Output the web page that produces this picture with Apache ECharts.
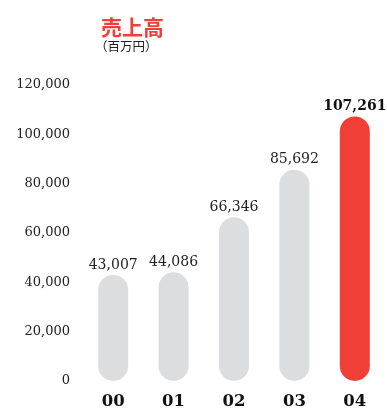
<!DOCTYPE html>
<html>
<head>
<meta charset="utf-8">
<script src="https://cdn.jsdelivr.net/npm/echarts@6/dist/echarts.min.js"></script>
<style>
  html, body { margin: 0; padding: 0; background: #fff; }
  #chart { width: 387px; height: 410px; }
</style>
</head>
<body>
<div id="chart"></div>
<script>
// Net sales by fiscal year (millions of yen)
var titleText = '売上高';
var unitText = '（百万円）';
var years = ['00', '01', '02', '03', '04'];
var sales = [43007, 44086, 66346, 85692, 107261];
var yTicks = [0, 20000, 40000, 60000, 80000, 100000, 120000];
var latestIndex = 4;

var GREY = '#dcdddf';
var RED = '#ef3f36';
var NUM_FONT = '"DejaVu Serif", serif';
var JP_FONT = '"Noto Sans CJK JP", sans-serif';

function fmt(v) {
  return v.toLocaleString('en-US');
}

var barData = sales.map(function (v, i) {
  var latest = i === latestIndex;
  return {
    value: v,
    itemStyle: { color: latest ? RED : GREY },
    label: latest ? { fontWeight: 'bold', fontSize: 14, color: '#111' } : {}
  };
});

var chart = echarts.init(document.getElementById('chart'));
chart.setOption({
  animation: false,
  graphic: [
    {
      type: 'text',
      left: 101,
      top: 17,
      style: {
        text: titleText,
        fill: RED,
        font: 'bold 21px ' + JP_FONT
      }
    },
    {
      type: 'text',
      left: 95,
      top: 40,
      style: {
        text: unitText,
        fill: '#222',
        font: '12.5px ' + JP_FONT
      }
    }
  ],
  grid: { left: 83, right: 2, top: 85, bottom: 23, containLabel: false },
  xAxis: {
    type: 'category',
    data: years,
    axisLine: { show: false },
    axisTick: { show: false },
    axisLabel: {
      margin: 12,
      color: '#111',
      fontSize: 16.5,
      fontWeight: 'bold',
      fontFamily: NUM_FONT
    }
  },
  yAxis: {
    type: 'value',
    min: yTicks[0],
    max: yTicks[yTicks.length - 1],
    interval: yTicks[1] - yTicks[0],
    splitLine: { show: false },
    axisLine: { show: false },
    axisTick: { show: false },
    axisLabel: {
      margin: 13,
      color: '#222',
      fontSize: 13,
      fontFamily: NUM_FONT,
      formatter: function (v) { return fmt(v); }
    }
  },
  series: [{
    type: 'bar',
    data: barData,
    barWidth: 30,
    itemStyle: { borderRadius: 15 },
    label: {
      show: true,
      position: 'top',
      distance: 3,
      color: '#222',
      fontSize: 14,
      fontFamily: NUM_FONT,
      formatter: function (p) { return fmt(p.value); }
    }
  }]
});
</script>
</body>
</html>
